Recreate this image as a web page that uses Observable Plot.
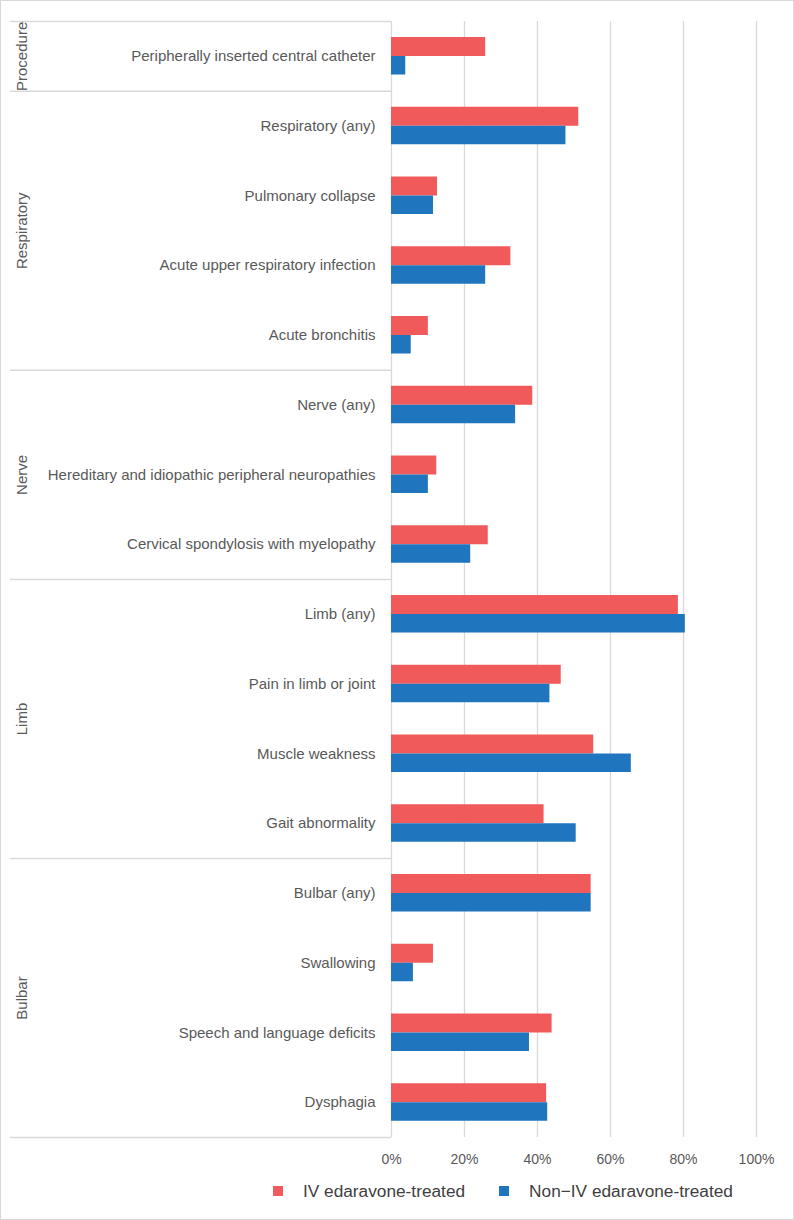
<!DOCTYPE html>
<html>
<head>
<meta charset="utf-8">
<script src="https://cdn.jsdelivr.net/npm/d3@7"></script>
<script src="https://cdn.jsdelivr.net/npm/@observablehq/plot@0.6"></script>
<style>
  html, body { margin: 0; padding: 0; background: #fff; }
  #wrap { position: relative; width: 794px; height: 1220px; box-sizing: border-box;
          border: 1px solid #d9d9d9; overflow: hidden;
          font-family: "Liberation Sans", Arial, sans-serif; }
  #chart { position: absolute; left: -1px; top: -1px; width: 795px; }
  #legend { position: absolute; top: 1179.5px; left: 272px; display: flex; align-items: center;
            font-size: 17.25px; line-height: 20px; color: #404040; white-space: nowrap; }
  #legend .sw { width: 10px; height: 10px; display: inline-block; }
  #legend .item { display: flex; align-items: center; }
</style>
</head>
<body>
<div id="wrap">
  <div id="chart"></div>
  <div id="legend"></div>
</div>
<script>
// ---- data ----
const categories = [
  "Peripherally inserted central catheter",
  "Respiratory (any)",
  "Pulmonary collapse",
  "Acute upper respiratory infection",
  "Acute bronchitis",
  "Nerve (any)",
  "Hereditary and idiopathic peripheral neuropathies",
  "Cervical spondylosis with myelopathy",
  "Limb (any)",
  "Pain in limb or joint",
  "Muscle weakness",
  "Gait abnormality",
  "Bulbar (any)",
  "Swallowing",
  "Speech and language deficits",
  "Dysphagia"
];
const categoryGroups = [
  "Procedure",
  "Respiratory", "Respiratory", "Respiratory", "Respiratory",
  "Nerve", "Nerve", "Nerve",
  "Limb", "Limb", "Limb", "Limb",
  "Bulbar", "Bulbar", "Bulbar", "Bulbar"
];
const ivValues    = [25.8, 51.3, 12.6, 32.7, 10.1, 38.7, 12.4, 26.5, 78.6, 46.5, 55.4, 41.8, 54.7, 11.5, 44.0, 42.5];
const nonIvValues = [ 3.9, 47.8, 11.5, 25.8,  5.4, 34.0, 10.1, 21.7, 80.5, 43.4, 65.7, 50.6, 54.7,  6.0, 37.8, 42.8];
const seriesNames = ["IV edaravone-treated", "Non\u2212IV edaravone-treated"];
const seriesColors = ["#F15A5A", "#1F75BE"];
const xTicks = [0, 20, 40, 60, 80, 100];

// ---- derived tables ----
const ivData = categories.map((c, i) => ({category: c, value: ivValues[i]}));
const nonIvData = categories.map((c, i) => ({category: c, value: nonIvValues[i]}));
const groupList = [];
categories.forEach((c, i) => {
  const g = categoryGroups[i];
  const last = groupList[groupList.length - 1];
  if (!last || last.name !== g) groupList.push({name: g, first: c, count: 1});
  else last.count++;
});

// ---- layout ----
const W = 795, H = 1173, mL = 391, mR = 39, mT = 21, mB = 36;
const bw = (H - mT - mB) / categories.length;
const grid = "#d9d9d9";
const textColor = "#595959";

const marks = [
  Plot.ruleX(xTicks, {x: d => d, stroke: grid, strokeWidth: 1.3}),
  // group separators (top of each group) extending into the left margin
  Plot.ruleY(groupList, {y: "first", x1: 0, x2: 0, insetLeft: -(mL - 10), dy: -bw / 2, stroke: grid, strokeWidth: 1.3}),
  Plot.ruleY([categories[categories.length - 1]], {y: d => d, x1: 0, x2: 0, insetLeft: -(mL - 10), dy: bw / 2, stroke: grid, strokeWidth: 1.3}),
  Plot.barX(ivData, {x: "value", y: "category", fill: seriesColors[0], insetTop: 16, insetBottom: bw - 35}),
  Plot.barX(nonIvData, {x: "value", y: "category", fill: seriesColors[1], insetTop: 35, insetBottom: bw - 53.5}),
  Plot.text(categories, {y: d => d, text: d => d, frameAnchor: "left", textAnchor: "end", dx: -16, fontSize: 15, fill: textColor}),
  ...groupList.map(g => Plot.text([g], {
    y: "first", text: "name", rotate: -90, frameAnchor: "left", textAnchor: "middle",
    dx: -(mL - 22), dy: (g.count - 1) / 2 * bw, fontSize: 15, fill: textColor
  }))
];

const chart = Plot.plot({
  width: W, height: H,
  marginLeft: mL, marginRight: mR, marginTop: mT, marginBottom: mB,
  style: {fontFamily: '"Liberation Sans", Arial, sans-serif', fontSize: "14px", color: textColor, background: "transparent", overflow: "visible"},
  x: {domain: [0, 100], ticks: xTicks, tickFormat: d => d + "%", tickSize: 0, tickPadding: 17, label: null},
  y: {domain: categories, axis: null, padding: 0, round: false},
  marks
});
document.getElementById("chart").appendChild(chart);

// ---- legend ----
const legend = document.getElementById("legend");
seriesNames.forEach((name, i) => {
  const item = document.createElement("div");
  item.className = "item";
  item.style.marginRight = i === 0 ? "34px" : "0";
  const sw = document.createElement("span");
  sw.className = "sw";
  sw.style.background = seriesColors[i];
  sw.style.marginRight = "20px";
  const t = document.createElement("span");
  t.textContent = name;
  item.appendChild(sw);
  item.appendChild(t);
  legend.appendChild(item);
});
</script>
</body>
</html>
